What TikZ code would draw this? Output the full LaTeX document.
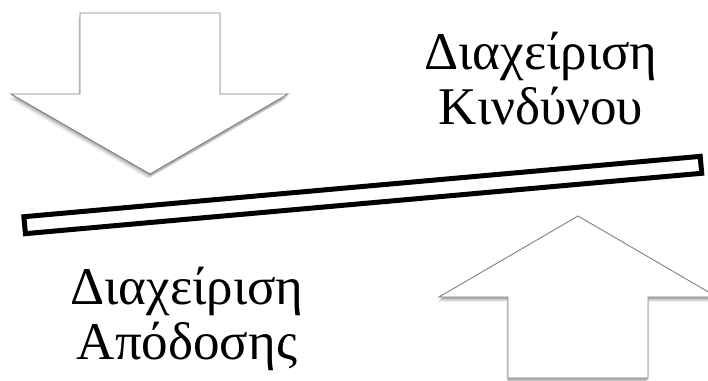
\documentclass[tikz,border=0pt]{standalone}
\usepackage{fontspec}
\setmainfont{Liberation Serif}
\begin{document}
\begin{tikzpicture}[x=1pt,y=-1pt,
  arrowshape/.style={draw=black!50,line width=0.9pt,fill=white,line join=miter},
  shadowshape/.style={fill=black,fill opacity=0.06,draw=none},
  lever/.style={draw=black,line width=5pt,fill=white,minimum width=679pt,minimum height=17pt,inner sep=0pt,rotate=5.1},
  label/.style={align=center,inner sep=0pt,font=\fontsize{53}{55}\selectfont}]
\useasboundingbox (0,0) rectangle (708,380);
% down arrow shadow
\foreach \dx/\dy in {0/1,0/2,-1/3,-1/4,-2/5,0/3,1/2} {
  \fill[shadowshape,shift={(\dx,\dy)}] (80,13) -- (220,13) -- (220,94) -- (288,94) -- (150,174) -- (11,94) -- (80,94) -- cycle;
}
\draw[arrowshape] (80,13) -- (220,13) -- (220,94) -- (288,94) -- (150,174) -- (11,94) -- (80,94) -- cycle;
\coordinate (downtip) at (150,174);
% up arrow shadow
\foreach \dx/\dy in {0/1,0/2,-1/3,-1/4,-2/5,0/3,1/2} {
  \fill[shadowshape,shift={(\dx,\dy)}] (578,216) -- (717,297) -- (648,297) -- (648,378) -- (508,378) -- (508,297) -- (439,297) -- cycle;
}
\draw[arrowshape] (578,216) -- (717,297) -- (648,297) -- (648,378) -- (508,378) -- (508,297) -- (439,297) -- cycle;
\coordinate (uptip) at (578,216);
% lever
\node[lever] (bar) at (362.8,195) {};
% labels
\node[label,anchor=north] (risk) at (541,32) {Διαχείριση\\Κινδύνου};
\node[label,anchor=north] (perf) at (187,267) {Διαχείριση\\Απόδοσης};
\end{tikzpicture}
\end{document}
